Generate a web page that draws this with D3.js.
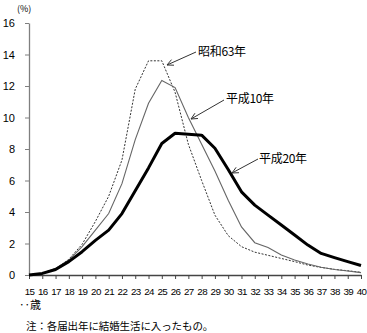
<!DOCTYPE html>
<html><head><meta charset="utf-8">
<script src="https://cdn.jsdelivr.net/npm/d3@7"></script>
<style>
html,body{margin:0;padding:0;background:#fff;}
svg{display:block;}
text{font-family:"Liberation Sans",Arial,sans-serif;fill:#000;}
.jp{font-family:"Noto Sans CJK JP",sans-serif;}
</style></head>
<body>
<script>
const ages = d3.range(15, 41);
const showa63 = [0,0.1,0.4,1.0,1.95,3.4,5.0,7.3,11.8,13.6,13.6,11.6,8.3,6.0,3.8,2.5,1.8,1.45,1.25,1.05,0.85,0.63,0.48,0.36,0.27,0.17];
const heisei10 = [0,0.1,0.42,0.95,1.8,2.85,3.9,5.8,8.6,10.9,12.35,11.9,10.0,8.3,6.6,4.75,3.05,2.05,1.75,1.27,0.95,0.7,0.49,0.35,0.25,0.15];
const heisei20 = [0,0.1,0.35,0.85,1.48,2.2,2.85,3.9,5.35,6.8,8.35,9.0,8.94,8.88,8.05,6.7,5.28,4.44,3.8,3.17,2.54,1.9,1.37,1.1,0.85,0.6];
const yTicks = [0,2,4,6,8,10,12,14,16];
const seriesLabels = ["昭和63年","平成10年","平成20年"];
const unitLabel = "(%)";
const ageLabel = "‥歳";
const note = "注：各届出年に結婚生活に入ったもの。";

const W = 367, H = 333;
const svg = d3.select("body").append("svg").attr("width", W).attr("height", H);
const x = d3.scaleLinear().domain([15, 40]).range([29, 361]);
const y = d3.scaleLinear().domain([0, 16]).range([275, 23]);

// y axis
const ya = svg.append("g").attr("transform", "translate(29,0)")
  .call(d3.axisLeft(y).tickValues(yTicks).tickSize(4).tickPadding(10).tickSizeOuter(0));
ya.select(".domain").attr("stroke", "#7f7f7f").attr("stroke-width", 1.3);
ya.selectAll(".tick line").attr("stroke", "#7f7f7f");
ya.selectAll(".tick text").attr("font-size", 11).attr("font-family", "Liberation Sans, Arial, sans-serif").attr("fill", "#000");

// x axis
const xa = svg.append("g").attr("transform", "translate(0,275)")
  .call(d3.axisBottom(x).tickValues(ages).tickSize(4).tickPadding(9).tickSizeOuter(0).tickFormat(d3.format("d")));
xa.select(".domain").attr("stroke", "#444").attr("stroke-width", 1.3);
xa.selectAll(".tick line").attr("stroke", "#444");
xa.selectAll(".tick text").attr("font-size", 9.8).attr("letter-spacing", -0.6)
  .attr("font-family", "Liberation Sans, Arial, sans-serif").attr("fill", "#000");

const line = d3.line().x((d, i) => x(ages[i])).y(d => y(d));

svg.append("path").datum(showa63).attr("d", line).attr("fill", "none")
  .attr("stroke", "#333").attr("stroke-width", 1).attr("stroke-dasharray", "2,1.5");
svg.append("path").datum(heisei10).attr("d", line).attr("fill", "none")
  .attr("stroke", "#666").attr("stroke-width", 1.1);
svg.append("path").datum(heisei20).attr("d", line).attr("fill", "none")
  .attr("stroke", "#000").attr("stroke-width", 3).attr("stroke-linejoin", "round");

// labels with arrows
function arrow(x1, y1, x2, y2) {
  svg.append("line").attr("x1", x1).attr("y1", y1).attr("x2", x2).attr("y2", y2)
    .attr("stroke", "#333").attr("stroke-width", 1);
  const a = Math.atan2(y2 - y1, x2 - x1), L = 7, s = 0.45;
  const p = [[x2 - L * Math.cos(a - s), y2 - L * Math.sin(a - s)], [x2, y2], [x2 - L * Math.cos(a + s), y2 - L * Math.sin(a + s)]];
  svg.append("path").attr("d", d3.line()(p)).attr("fill", "none").attr("stroke", "#333").attr("stroke-width", 1);
}
arrow(196, 52, 167, 65);
arrow(224, 100, 191, 119);
arrow(258, 159, 232, 173);

const lbl = [[198, 56], [226, 103], [259, 163]];
seriesLabels.forEach((t, i) => {
  svg.append("text").attr("class", "jp").attr("x", lbl[i][0]).attr("y", lbl[i][1])
    .attr("font-size", 12).attr("letter-spacing", -0.3).text(t);
});

svg.append("text").attr("x", 17).attr("y", 12).attr("font-size", 9).attr("class", "jp").text(unitLabel);
svg.append("text").attr("class", "jp").attr("x", 19).attr("y", 309).attr("font-size", 11).text(ageLabel);
svg.append("text").attr("class", "jp").attr("x", 26).attr("y", 330).attr("font-size", 10.5).attr("letter-spacing", -0.1).text(note);
</script>
</body></html>
